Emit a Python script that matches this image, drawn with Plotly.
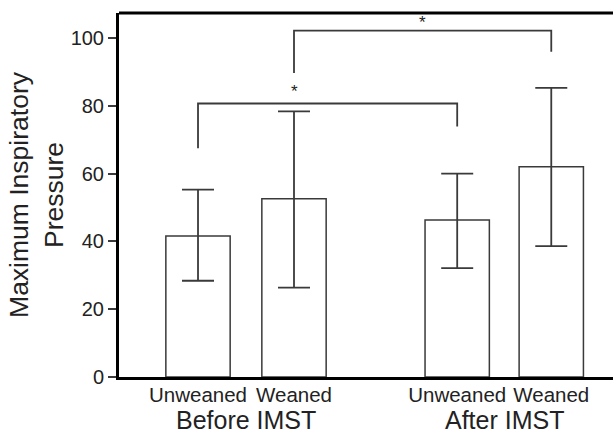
import plotly.graph_objects as go

# Data
groups = ["Before IMST", "After IMST"]
tick_labels = ["Unweaned", "Weaned", "Unweaned", "Weaned"]
means = [41.6, 52.6, 46.3, 62.0]
upper = [55.3, 78.4, 60.0, 85.3]
lower = [28.4, 26.4, 32.1, 38.6]

# Significance brackets: (from bar index, to bar index, bar height, left leg bottom, right leg bottom)
brackets = [(0, 2, 80.7, 67.5, 73.9), (1, 3, 102.2, 89.7, 96.0)]
star_labels = ["*", "*"]
star_at = [1, None]  # bar index for star x (None = midpoint)
star_y = [84.2, 104.6]

# Layout positions
pos = [0, 1, 2.7, 3.68]
bar_w = 0.67
font = "Liberation Sans, Arial, sans-serif"
dark = "#3a3a3a"

err_plus = [u - m for u, m in zip(upper, means)]
err_minus = [m - l for m, l in zip(means, lower)]

fig = go.Figure()
fig.add_trace(go.Bar(
    x=pos, y=means, width=bar_w,
    marker=dict(color="white", line=dict(color=dark, width=1.5)),
    error_y=dict(type="data", array=err_plus, arrayminus=err_minus,
                 color=dark, thickness=1.8, width=16, visible=True),
    showlegend=False,
))

shapes = [dict(type="line", xref="paper", yref="paper", x0=0, x1=1.02, y0=1, y1=1,
               line=dict(color="black", width=3))]
annotations = []
for i, (a, b, top, la, lb) in enumerate(brackets):
    xa, xb = pos[a], pos[b]
    shapes.append(dict(type="path", xref="x", yref="y",
                       path=f"M {xa} {la} L {xa} {top} L {xb} {top} L {xb} {lb}",
                       line=dict(color=dark, width=1.8)))
    sx = pos[star_at[i]] if star_at[i] is not None else (xa + xb) / 2
    annotations.append(dict(x=sx, y=star_y[i], xref="x", yref="y", text=star_labels[i],
                            showarrow=False, font=dict(size=17, color="#222", family=font)))

group_x = [(pos[0] + pos[1]) / 2, (pos[2] + pos[3]) / 2]
for gx, g in zip(group_x, groups):
    annotations.append(dict(x=gx, y=0, xref="x", yref="paper", text=g, showarrow=False,
                            yanchor="top", yshift=-27, font=dict(size=25, color="#222", family=font)))

fig.update_layout(
    width=613, height=433,
    margin=dict(l=119, r=0, t=13, b=56),
    plot_bgcolor="white", paper_bgcolor="white",
    font=dict(family=font, color="#222"),
    shapes=shapes, annotations=annotations,
    xaxis=dict(range=[-0.823, 4.323], tickvals=pos, ticktext=tick_labels,
               tickfont=dict(size=20.5, color="#222"), ticks="", showline=True,
               ticklabelstandoff=-3,
               linecolor="black", linewidth=3, showgrid=False, zeroline=False),
    yaxis=dict(range=[0, 107.4], tickvals=[0, 20, 40, 60, 80, 100],
               tickfont=dict(size=20, color="#222"), ticks="outside", ticklen=8,
               tickwidth=1.5, tickcolor=dark, showline=True, linecolor="black",
               linewidth=3, showgrid=False, zeroline=False,
               title=dict(text="Maximum Inspiratory<br>Pressure", standoff=0,
                          font=dict(size=26.5, color="#222"))),
)

fig.write_html("out.html")
